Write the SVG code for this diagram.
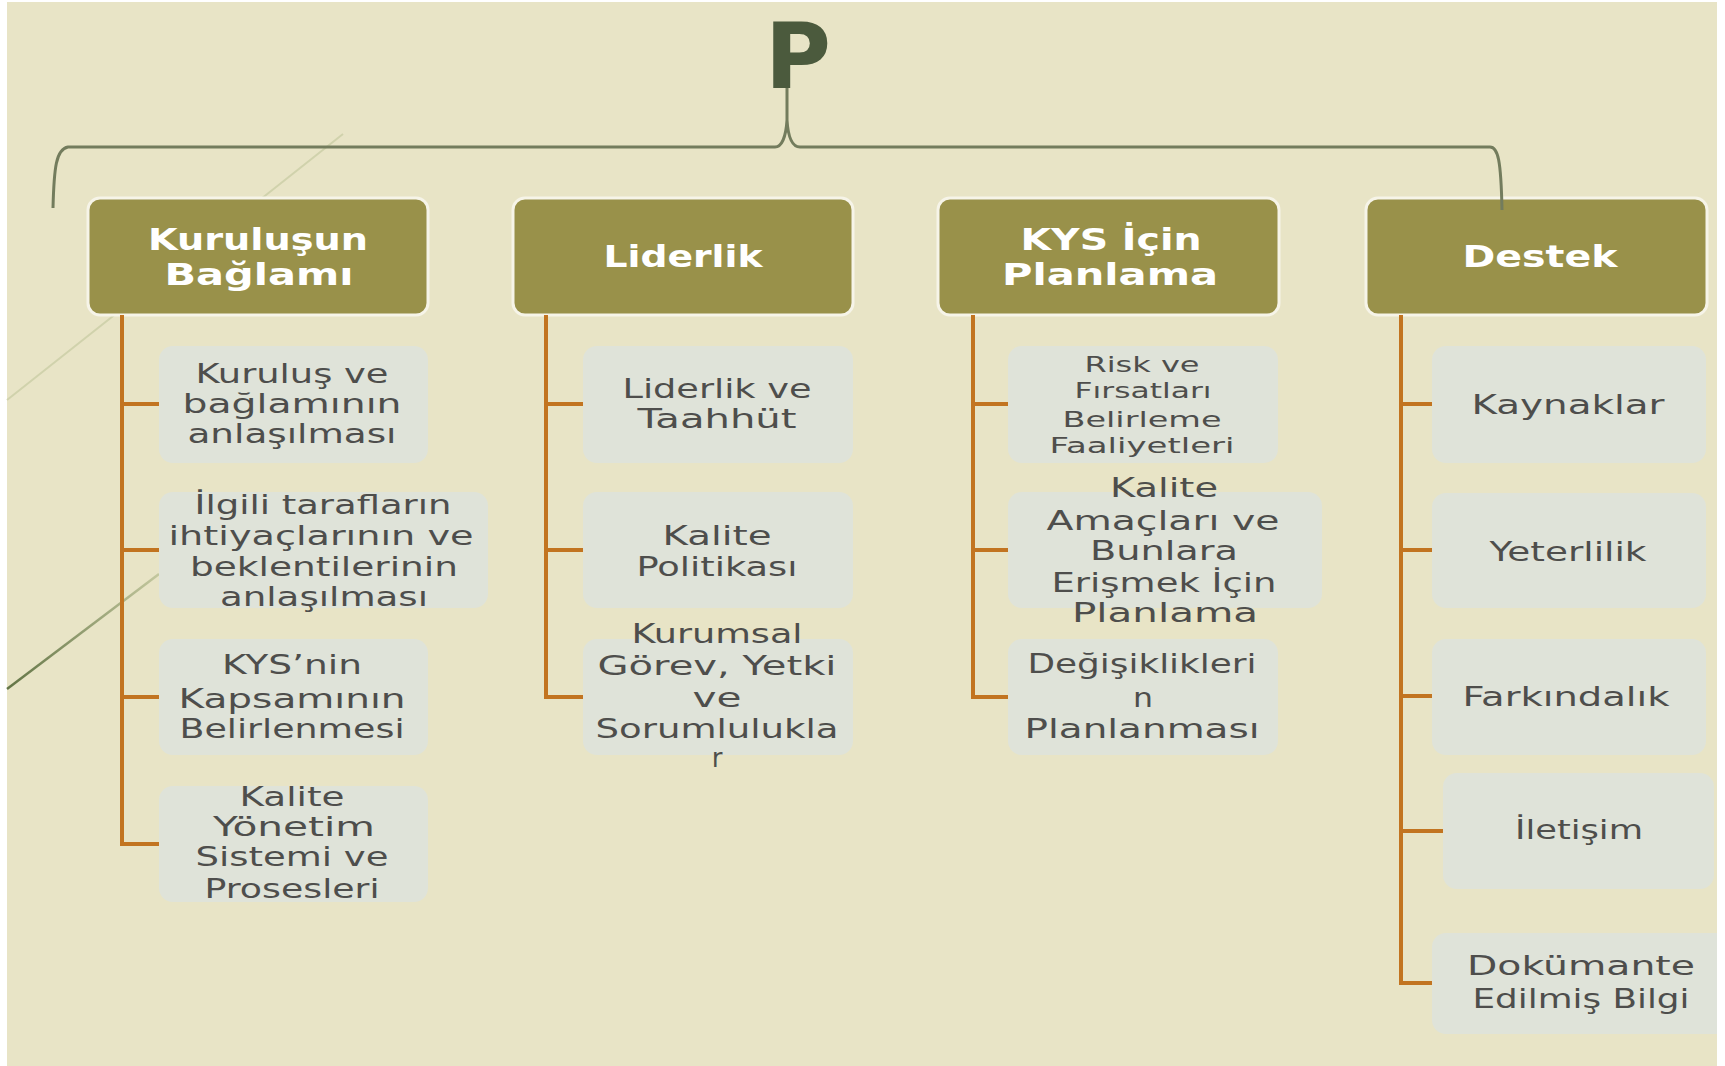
<svg xmlns="http://www.w3.org/2000/svg" width="1725" height="1066" viewBox="0 0 1725 1066">
<defs>
<linearGradient id="deco2" x1="159" y1="574" x2="7" y2="689" gradientUnits="userSpaceOnUse">
<stop offset="0" stop-color="#C3C79E"/>
<stop offset="1" stop-color="#627445"/>
</linearGradient>
<style>
.hdr{fill:#99914A;stroke:#F6F4E8;stroke-width:3}
.hdrt{font-family:"DejaVu Sans","Liberation Sans",sans-serif;font-weight:bold;font-size:30px;fill:#FFFFFF;text-anchor:middle}
.child{fill:#DFE3D9}
.ct{font-family:"DejaVu Sans","Liberation Sans",sans-serif;font-size:26px;fill:#4E4E4C;text-anchor:middle}
.cs{font-size:22px}
.org{fill:none;stroke:#C27420;stroke-width:4;stroke-linejoin:miter}
.brace{fill:none;stroke:#737C5D;stroke-width:3}
</style>
</defs>
<rect x="0" y="0" width="1725" height="1066" fill="#FFFFFF"/>
<rect x="7" y="2" width="1710" height="1064" fill="#E8E4C6"/>
<g id="decoration">
<line x1="343" y1="134" x2="7" y2="400" stroke="#D0D2AC" stroke-width="2"/>
<line x1="159" y1="574" x2="7" y2="689" stroke="url(#deco2)" stroke-width="2.5"/>
</g>
<g id="node-P">
<text x="765" y="88" font-family="DejaVu Sans, Liberation Sans, sans-serif" font-weight="bold" font-size="90" fill="#4B5A3D" textLength="66" lengthAdjust="spacingAndGlyphs">P</text>
</g>
<g id="node-kurulus">
<rect class="hdr" x="88" y="198" width="340" height="117" rx="12"/>
<text class="hdrt" x="258" y="250" textLength="220" lengthAdjust="spacingAndGlyphs">Kuruluşun</text>
<text class="hdrt" x="259" y="285" textLength="189" lengthAdjust="spacingAndGlyphs">Bağlamı</text>
</g>
<g id="node-liderlik">
<rect class="hdr" x="513" y="198" width="340" height="117" rx="12"/>
<text class="hdrt" x="683" y="267" textLength="159" lengthAdjust="spacingAndGlyphs">Liderlik</text>
</g>
<g id="node-planlama">
<rect class="hdr" x="938" y="198" width="341" height="117" rx="12"/>
<text class="hdrt" x="1111" y="250" textLength="181" lengthAdjust="spacingAndGlyphs">KYS İçin</text>
<text class="hdrt" x="1110" y="285" textLength="216" lengthAdjust="spacingAndGlyphs">Planlama</text>
</g>
<g id="node-destek">
<rect class="hdr" x="1366" y="198" width="341" height="117" rx="12"/>
<text class="hdrt" x="1540" y="267" textLength="155" lengthAdjust="spacingAndGlyphs">Destek</text>
</g>
<g id="node-c1a">
<rect class="child" x="159" y="346" width="269" height="117" rx="14"/>
<text class="ct" x="292" y="383" textLength="193" lengthAdjust="spacingAndGlyphs">Kuruluş ve</text>
<text class="ct" x="292" y="413" textLength="219" lengthAdjust="spacingAndGlyphs">bağlamının</text>
<text class="ct" x="292" y="443" textLength="209" lengthAdjust="spacingAndGlyphs">anlaşılması</text>
</g>
<g id="node-c1b">
<rect class="child" x="159" y="492" width="329" height="116" rx="14"/>
<text class="ct" x="323" y="514" textLength="257" lengthAdjust="spacingAndGlyphs">İlgili tarafların</text>
<text class="ct" x="321" y="545" textLength="305" lengthAdjust="spacingAndGlyphs">ihtiyaçlarının ve</text>
<text class="ct" x="324" y="576" textLength="268" lengthAdjust="spacingAndGlyphs">beklentilerinin</text>
<text class="ct" x="324" y="606" textLength="208" lengthAdjust="spacingAndGlyphs">anlaşılması</text>
</g>
<g id="node-c1c">
<rect class="child" x="159" y="639" width="269" height="116" rx="14"/>
<text class="ct" x="292" y="674" textLength="140" lengthAdjust="spacingAndGlyphs">KYS’nin</text>
<text class="ct" x="292" y="708" textLength="227" lengthAdjust="spacingAndGlyphs">Kapsamının</text>
<text class="ct" x="292" y="738" textLength="225" lengthAdjust="spacingAndGlyphs">Belirlenmesi</text>
</g>
<g id="node-c1d">
<rect class="child" x="159" y="786" width="269" height="116" rx="14"/>
<text class="ct" x="292" y="806" textLength="105" lengthAdjust="spacingAndGlyphs">Kalite</text>
<text class="ct" x="294" y="836" textLength="162" lengthAdjust="spacingAndGlyphs">Yönetim</text>
<text class="ct" x="292" y="866" textLength="193" lengthAdjust="spacingAndGlyphs">Sistemi ve</text>
<text class="ct" x="292" y="898" textLength="175" lengthAdjust="spacingAndGlyphs">Prosesleri</text>
</g>
<g id="node-c2a">
<rect class="child" x="583" y="346" width="270" height="117" rx="14"/>
<text class="ct" x="717" y="398" textLength="189" lengthAdjust="spacingAndGlyphs">Liderlik ve</text>
<text class="ct" x="717" y="428" textLength="159" lengthAdjust="spacingAndGlyphs">Taahhüt</text>
</g>
<g id="node-c2b">
<rect class="child" x="583" y="492" width="270" height="116" rx="14"/>
<text class="ct" x="717" y="545" textLength="109" lengthAdjust="spacingAndGlyphs">Kalite</text>
<text class="ct" x="717" y="576" textLength="161" lengthAdjust="spacingAndGlyphs">Politikası</text>
</g>
<g id="node-c2c">
<rect class="child" x="583" y="639" width="270" height="116" rx="14"/>
<text class="ct" x="717" y="643" textLength="171" lengthAdjust="spacingAndGlyphs">Kurumsal</text>
<text class="ct" x="717" y="675" textLength="239" lengthAdjust="spacingAndGlyphs">Görev, Yetki</text>
<text class="ct" x="717" y="707" textLength="49" lengthAdjust="spacingAndGlyphs">ve</text>
<text class="ct" x="717" y="738" textLength="243" lengthAdjust="spacingAndGlyphs">Sorumlulukla</text>
<text class="ct" x="717" y="767">r</text>
</g>
<g id="node-c3a">
<rect class="child" x="1008" y="346" width="270" height="117" rx="14"/>
<text class="ct cs" x="1142" y="372" textLength="115" lengthAdjust="spacingAndGlyphs">Risk ve</text>
<text class="ct cs" x="1143" y="398" textLength="137" lengthAdjust="spacingAndGlyphs">Fırsatları</text>
<text class="ct cs" x="1142" y="427" textLength="159" lengthAdjust="spacingAndGlyphs">Belirleme</text>
<text class="ct cs" x="1142" y="453" textLength="185" lengthAdjust="spacingAndGlyphs">Faaliyetleri</text>
</g>
<g id="node-c3b">
<rect class="child" x="1008" y="492" width="314" height="116" rx="14"/>
<text class="ct" x="1164" y="497" textLength="108" lengthAdjust="spacingAndGlyphs">Kalite</text>
<text class="ct" x="1163" y="530" textLength="233" lengthAdjust="spacingAndGlyphs">Amaçları ve</text>
<text class="ct" x="1164" y="560" textLength="148" lengthAdjust="spacingAndGlyphs">Bunlara</text>
<text class="ct" x="1164" y="592" textLength="225" lengthAdjust="spacingAndGlyphs">Erişmek İçin</text>
<text class="ct" x="1165" y="622" textLength="186" lengthAdjust="spacingAndGlyphs">Planlama</text>
</g>
<g id="node-c3c">
<rect class="child" x="1008" y="639" width="270" height="116" rx="14"/>
<text class="ct" x="1142" y="673" textLength="229" lengthAdjust="spacingAndGlyphs">Değişiklikleri</text>
<text class="ct" x="1143" y="707" textLength="20" lengthAdjust="spacingAndGlyphs">n</text>
<text class="ct" x="1142" y="738" textLength="235" lengthAdjust="spacingAndGlyphs">Planlanması</text>
</g>
<g id="node-c4a">
<rect class="child" x="1432" y="346" width="274" height="117" rx="14"/>
<text class="ct" x="1568" y="414" textLength="193" lengthAdjust="spacingAndGlyphs">Kaynaklar</text>
</g>
<g id="node-c4b">
<rect class="child" x="1432" y="493" width="274" height="115" rx="14"/>
<text class="ct" x="1568" y="561" textLength="157" lengthAdjust="spacingAndGlyphs">Yeterlilik</text>
</g>
<g id="node-c4c">
<rect class="child" x="1432" y="639" width="274" height="116" rx="14"/>
<text class="ct" x="1566" y="706" textLength="207" lengthAdjust="spacingAndGlyphs">Farkındalık</text>
</g>
<g id="node-c4d">
<rect class="child" x="1443" y="773" width="271" height="116" rx="14"/>
<text class="ct" x="1579" y="839" textLength="128" lengthAdjust="spacingAndGlyphs">İletişim</text>
</g>
<g id="node-c4e">
<rect class="child" x="1432" y="933" width="300" height="101" rx="14"/>
<text class="ct" x="1581" y="975" textLength="228" lengthAdjust="spacingAndGlyphs">Dokümante</text>
<text class="ct" x="1581" y="1008" textLength="217" lengthAdjust="spacingAndGlyphs">Edilmiş Bilgi</text>
</g>
<g id="connectors">
<path class="brace" d="M 53 208 C 54 168 56 149 68 147 L 775 147 C 782 147 786 136 787 120 L 787 88 M 787 120 C 788 136 792 147 800 147 L 1490 147 C 1498 147 1501 160 1502 210"/>
<path class="org" d="M 122 315 V 844 H 159 M 122 404 H 159 M 122 550 H 159 M 122 697 H 159"/>
<path class="org" d="M 546 315 V 697 H 583 M 546 404 H 583 M 546 550 H 583"/>
<path class="org" d="M 973 315 V 697 H 1008 M 973 404 H 1008 M 973 550 H 1008"/>
<path class="org" d="M 1401 315 V 983 H 1432 M 1401 404 H 1432 M 1401 550 H 1432 M 1401 696 H 1432 M 1401 831 H 1443"/>
</g>
<rect x="1717" y="0" width="8" height="1066" fill="#FFFFFF"/>
</svg>
